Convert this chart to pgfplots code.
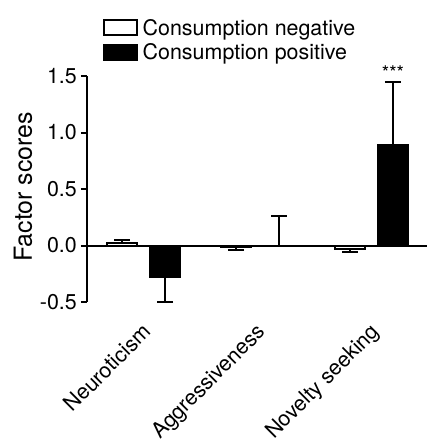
\documentclass[border=0pt]{standalone}
\usepackage{pgfplots}
\usepackage{pgfplotstable}
\pgfplotsset{compat=1.18}
\usepackage{fontspec}
\setmainfont{TeX Gyre Heros}
\pgfplotstableread{
x y ep em
0 0.02 0.03 0
1 -0.01 0 0.03
2 -0.03 0 0.03
}\tneg
\pgfplotstableread{
x y ep em
0 -0.28 0 0.22
1 0 0.26 0
2 0.89 0.56 0
}\tpos
\begin{document}
\begin{tikzpicture}
\path[use as bounding box] (-87bp,-140bp) rectangle (340bp,302bp);
\begin{axis}[
  at={(0,0)}, anchor=south west,
  scale only axis, width=340bp, height=226bp,
  xmin=-0.496, xmax=2.487, ymin=-0.5, ymax=1.5,
  clip=false,
  axis y line=left, axis x line*=bottom,
  x axis line style={draw=none},
  y axis line style={line width=2bp, -},
  xtick={0,1,2},
  xticklabels={Neuroticism,Aggressiveness,Novelty seeking},
  xtick style={draw=none},
  xticklabel style={inner sep=0pt, xshift=9bp, yshift=-25bp, rotate=45, anchor=base east},
  ytick={-0.5,0,0.5,1,1.5},
  yticklabels={-0.5,0.0,0.5,1.0,1.5},
  tick align=outside,
  major tick length=6bp,
  ytick style={line width=2bp, black},
  yticklabel style={inner sep=0pt, xshift=-4bp},
  ylabel={Factor scores},
  ylabel style={at={(axis description cs:-0.1618,0.51)}, anchor=base, inner sep=0pt, font=\fontsize{25}{28}\selectfont},
  tick label style={font=\fontsize{21.5}{24}\selectfont},
  ybar, bar width=30bp,
  legend style={at={(0.047,1.257)}, anchor=north west, draw=none, fill=none,
    font=\fontsize{21.5}{24}\selectfont, inner sep=0pt, row sep=5bp,
    nodes={inner sep=1bp}},
  legend cell align=left,
  legend image code/.code={\draw[#1, line width=2bp] (0bp,-7.5bp) rectangle (33bp,7.5bp);},
  error bars/error bar style={line width=2bp, black},
  error bars/error mark options={rotate=90, mark size=8bp, line width=2bp, black},
]
\addplot[fill=white, draw=black, line width=2bp, bar shift=-21.5bp,
  error bars/.cd, y dir=both, y explicit]
  table[x=x, y=y, y error plus=ep, y error minus=em] {\tneg};
\addlegendentry{\hspace{3.5bp}Consumption negative}
\addplot[fill=black, draw=black, line width=2bp, bar shift=21.5bp,
  error bars/.cd, y dir=both, y explicit]
  table[x=x, y=y, y error plus=ep, y error minus=em] {\tpos};
\addlegendentry{\hspace{3.5bp}Consumption positive}
\draw[line width=2bp] (axis cs:-0.496,0) -- (axis cs:2.487,0);
\node[font=\fontsize{19}{20}\selectfont, anchor=base, inner sep=0pt] at ([yshift=2bp]axis cs:2.189,1.45) {***};
\end{axis}
\end{tikzpicture}
\end{document}
